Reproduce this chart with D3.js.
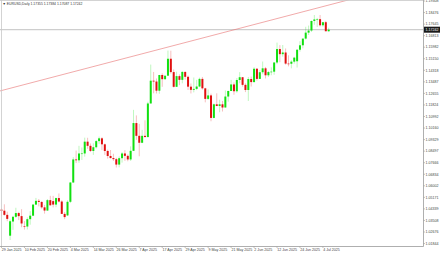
<!DOCTYPE html>
<html>
<head>
<meta charset="utf-8">
<script src="https://cdn.jsdelivr.net/npm/d3@7"></script>
<style>
  html, body { margin: 0; padding: 0; background: #fff; overflow: hidden; }
</style>
</head>
<body>
<div id="chart"></div>
<script>
// EURUSD daily candles, 29 Jan - 8 Jul 2025
const dates = [
  '2025-01-29','2025-01-30','2025-01-31','2025-02-03','2025-02-04','2025-02-05','2025-02-06','2025-02-07',
  '2025-02-10','2025-02-11','2025-02-12','2025-02-13','2025-02-14','2025-02-17','2025-02-18','2025-02-19',
  '2025-02-20','2025-02-21','2025-02-24','2025-02-25','2025-02-26','2025-02-27','2025-02-28','2025-03-03',
  '2025-03-04','2025-03-05','2025-03-06','2025-03-07','2025-03-10','2025-03-11','2025-03-12','2025-03-13',
  '2025-03-14','2025-03-17','2025-03-18','2025-03-19','2025-03-20','2025-03-21','2025-03-24','2025-03-25',
  '2025-03-26','2025-03-27','2025-03-28','2025-03-31','2025-04-01','2025-04-02','2025-04-03','2025-04-04',
  '2025-04-07','2025-04-08','2025-04-09','2025-04-10','2025-04-11','2025-04-14','2025-04-15','2025-04-16',
  '2025-04-17','2025-04-18','2025-04-21','2025-04-22','2025-04-23','2025-04-24','2025-04-25','2025-04-28',
  '2025-04-29','2025-04-30','2025-05-01','2025-05-02','2025-05-05','2025-05-06','2025-05-07','2025-05-08',
  '2025-05-09','2025-05-12','2025-05-13','2025-05-14','2025-05-15','2025-05-16','2025-05-19','2025-05-20',
  '2025-05-21','2025-05-22','2025-05-23','2025-05-26','2025-05-27','2025-05-28','2025-05-29','2025-05-30',
  '2025-06-02','2025-06-03','2025-06-04','2025-06-05','2025-06-06','2025-06-09','2025-06-10','2025-06-11',
  '2025-06-12','2025-06-13','2025-06-16','2025-06-17','2025-06-18','2025-06-19','2025-06-20','2025-06-23',
  '2025-06-24','2025-06-25','2025-06-26','2025-06-27','2025-06-30','2025-07-01','2025-07-02','2025-07-03',
  '2025-07-04','2025-07-07','2025-07-08'
];

const open = [
  1.0429,1.0421,1.0391,1.0241,1.0343,1.0377,1.0404,1.0382,
  1.0310,1.0307,1.0360,1.0385,1.0465,1.0492,1.0484,1.0445,
  1.0422,1.0497,1.0490,1.0465,1.0512,1.0487,1.0398,1.0387,
  1.0485,1.0624,1.0790,1.0784,1.0833,1.0833,1.0918,1.0888,
  1.0851,1.0878,1.0922,1.0942,1.0899,1.0851,1.0815,1.0800,
  1.0792,1.0753,1.0799,1.0833,1.0816,1.0790,1.0852,1.1052,
  1.0960,1.0910,1.0960,1.0951,1.1193,1.1357,1.1351,1.1285,
  1.1398,1.1368,1.1393,1.1515,1.1419,1.1313,1.1390,1.1363,
  1.1420,1.1385,1.1314,1.1291,1.1298,1.1315,1.1370,1.1302,
  1.1226,1.1251,1.1089,1.1187,1.1175,1.1187,1.1164,1.1243,
  1.1283,1.1330,1.1281,1.1362,1.1382,1.1327,1.1290,1.1369,
  1.1347,1.1443,1.1370,1.1418,1.1446,1.1396,1.1419,1.1422,
  1.1488,1.1585,1.1548,1.1560,1.1480,1.1479,1.1494,1.1497,
  1.1580,1.1612,1.1660,1.1703,1.1718,1.1787,1.1798,1.1800,
  1.1756,1.1778,1.1713
];

const high = [
  1.0437,1.0467,1.0414,1.0357,1.0384,1.0442,1.0413,1.0432,
  1.0346,1.0373,1.0418,1.0467,1.0513,1.0505,1.0489,1.0463,
  1.0505,1.0528,1.0528,1.0515,1.0545,1.0496,1.0412,1.0496,
  1.0627,1.0806,1.0854,1.0888,1.0876,1.0947,1.0946,1.0905,
  1.0906,1.0930,1.0955,1.0950,1.0905,1.0861,1.0858,1.0831,
  1.0802,1.0812,1.0843,1.0857,1.0826,1.0884,1.1147,1.1107,
  1.1046,1.1003,1.1072,1.1205,1.1473,1.1420,1.1373,1.1399,
  1.1410,1.1392,1.1574,1.1573,1.1438,1.1422,1.1403,1.1426,
  1.1425,1.1394,1.1337,1.1380,1.1363,1.1379,1.1384,1.1306,
  1.1294,1.1264,1.1193,1.1266,1.1220,1.1211,1.1287,1.1285,
  1.1363,1.1345,1.1376,1.1419,1.1383,1.1338,1.1384,1.1386,
  1.1454,1.1448,1.1434,1.1495,1.1456,1.1427,1.1453,1.1490,
  1.1631,1.1613,1.1614,1.1589,1.1540,1.1505,1.1529,1.1583,
  1.1641,1.1660,1.1745,1.1754,1.1790,1.1830,1.1809,1.1830,
  1.1780,1.1788,1.1738
];

const low = [
  1.0382,1.0385,1.0345,1.0210,1.0283,1.0369,1.0353,1.0302,
  1.0285,1.0286,1.0320,1.0382,1.0462,1.0452,1.0435,1.0400,
  1.0420,1.0458,1.0445,1.0446,1.0480,1.0397,1.0360,1.0383,
  1.0476,1.0620,1.0764,1.0766,1.0786,1.0810,1.0866,1.0843,
  1.0823,1.0869,1.0902,1.0857,1.0823,1.0796,1.0797,1.0779,
  1.0732,1.0733,1.0767,1.0780,1.0777,1.0779,1.0852,1.0931,
  1.0813,1.0907,1.0950,1.0950,1.1193,1.1266,1.1265,1.1263,
  1.1313,1.1362,1.1393,1.1408,1.1308,1.1312,1.1325,1.1338,
  1.1365,1.1290,1.1265,1.1273,1.1289,1.1310,1.1293,1.1201,
  1.1218,1.1065,1.1086,1.1173,1.1130,1.1135,1.1163,1.1206,
  1.1282,1.1256,1.1270,1.1339,1.1314,1.1275,1.1211,1.1315,
  1.1343,1.1357,1.1369,1.1404,1.1373,1.1384,1.1396,1.1400,
  1.1476,1.1490,1.1530,1.1472,1.1460,1.1446,1.1480,1.1452,
  1.1566,1.1590,1.1653,1.1686,1.1708,1.1760,1.1744,1.1747,
  1.1745,1.1713,1.1709
];

const close = [
  1.0421,1.0391,1.0362,1.0345,1.0377,1.0404,1.0382,1.0329,
  1.0307,1.0360,1.0385,1.0465,1.0492,1.0484,1.0445,1.0422,
  1.0497,1.0460,1.0465,1.0512,1.0487,1.0398,1.0375,1.0485,
  1.0624,1.0790,1.0784,1.0833,1.0833,1.0918,1.0888,1.0851,
  1.0878,1.0922,1.0942,1.0899,1.0851,1.0815,1.0800,1.0792,
  1.0753,1.0799,1.0833,1.0816,1.0790,1.0852,1.1052,1.0960,
  1.0910,1.0960,1.0951,1.1193,1.1357,1.1351,1.1285,1.1398,
  1.1368,1.1393,1.1515,1.1419,1.1313,1.1390,1.1363,1.1420,
  1.1385,1.1314,1.1291,1.1298,1.1315,1.1370,1.1302,1.1226,
  1.1251,1.1089,1.1187,1.1175,1.1187,1.1164,1.1243,1.1283,
  1.1330,1.1281,1.1362,1.1382,1.1327,1.1290,1.1369,1.1347,
  1.1443,1.1370,1.1418,1.1446,1.1396,1.1419,1.1422,1.1488,
  1.1585,1.1548,1.1560,1.1480,1.1479,1.1494,1.1523,1.1580,
  1.1612,1.1660,1.1703,1.1718,1.1787,1.1798,1.1800,1.1756,
  1.1778,1.1713,1.1724
];

// price scale labels on the right
const priceTicks = [
  1.19308,1.18476,1.17645,1.16813,1.15982,1.15150,1.14318,1.13487,
  1.12655,1.11824,1.10992,1.10160,1.09329,1.08497,1.07666,1.06834,
  1.06002,1.05171,1.04339,1.03508,1.02676,1.01844
];

// date labels along the bottom
const tickDates = [
  '2025-01-29','2025-02-10','2025-02-20','2025-03-04','2025-03-14','2025-03-26','2025-04-07','2025-04-17',
  '2025-04-29','2025-05-09','2025-05-21','2025-06-02','2025-06-12','2025-06-24','2025-07-04'
];

const titleText = 'EURUSD,Daily  1.17355 1.17384 1.17087 1.17242';
const bidPrice = 1.17242;

// trend line anchors (bar index, price)
const trendIdx = [0, 120];
const trendPrice = [1.1286, 1.1934];

(function() {
  const width = 440;
  const height = 254;
  const axisX = 423.5;
  const bottomY = 246.5;
  const upColor = '#11e011';
  const downColor = '#e01010';
  const font = '"Liberation Sans", Arial, sans-serif';

  const svg = d3.select('#chart')
    .append('svg')
    .attr('width', width)
    .attr('height', height)
    .style('display', 'block');

  svg.append('defs').append('clipPath')
    .attr('id', 'plot-clip')
    .append('rect')
    .attr('x', 0).attr('y', 0)
    .attr('width', axisX).attr('height', bottomY);

  const n = dates.length;
  const x = d3.scaleLinear().domain([0, n - 1]).range([1.5, 1.5 + (n - 1) * 2.87]);
  const y = d3.scaleLinear().domain([1.0210, 1.1830]).range([240, 15]);

  const bars = dates.map((d, i) => ({
    date: d, o: open[i], h: high[i], l: low[i], c: close[i], i: i
  }));

  const plot = svg.append('g').attr('clip-path', 'url(#plot-clip)');

  // frame
  svg.append('line')
    .attr('x1', 1.5).attr('x2', 1.5).attr('y1', 0).attr('y2', bottomY)
    .attr('stroke', '#c8c8c8').attr('stroke-width', 0.8);
  svg.append('line')
    .attr('x1', 0).attr('x2', axisX).attr('y1', 0.5).attr('y2', 0.5)
    .attr('stroke', '#c8c8c8').attr('stroke-width', 0.8);
  svg.append('line')
    .attr('x1', axisX).attr('x2', axisX).attr('y1', 0).attr('y2', bottomY)
    .attr('stroke', '#9a9a9a').attr('stroke-width', 0.8);
  svg.append('line')
    .attr('x1', 0).attr('x2', axisX).attr('y1', bottomY).attr('y2', bottomY)
    .attr('stroke', '#9a9a9a').attr('stroke-width', 0.8);

  // bid line
  plot.append('line')
    .attr('x1', 0).attr('x2', axisX)
    .attr('y1', y(bidPrice)).attr('y2', y(bidPrice))
    .attr('stroke', '#a8a8a8').attr('stroke-width', 0.7);

  // trend line, extended across the plot
  const slope = (trendPrice[1] - trendPrice[0]) / (trendIdx[1] - trendIdx[0]);
  const iLeft = x.invert(0);
  const iRight = x.invert(axisX);
  plot.append('line')
    .attr('x1', x(iLeft)).attr('y1', y(trendPrice[0] + (iLeft - trendIdx[0]) * slope))
    .attr('x2', x(iRight)).attr('y2', y(trendPrice[0] + (iRight - trendIdx[0]) * slope))
    .attr('stroke', '#e87070').attr('stroke-width', 0.6);

  // wicks
  plot.append('g')
    .selectAll('line')
    .data(bars)
    .enter().append('line')
    .attr('x1', d => x(d.i)).attr('x2', d => x(d.i))
    .attr('y1', d => y(d.h)).attr('y2', d => y(d.l))
    .attr('stroke', d => d.c >= d.o ? upColor : downColor)
    .attr('stroke-opacity', 0.45)
    .attr('stroke-width', 0.6);

  // bodies
  plot.append('g')
    .selectAll('rect')
    .data(bars)
    .enter().append('rect')
    .attr('x', d => x(d.i) - 1)
    .attr('width', 2)
    .attr('y', d => y(Math.max(d.o, d.c)))
    .attr('height', d => Math.max(0.6, Math.abs(y(d.o) - y(d.c))))
    .attr('fill', d => d.c >= d.o ? upColor : downColor);

  // title
  svg.append('text')
    .attr('x', 2.5).attr('y', 5)
    .style('font-family', font)
    .style('font-size', '3.4px')
    .attr('fill', '#333')
    .text('\u25BC ' + titleText);

  // price labels
  const pt = svg.append('g');
  pt.selectAll('line')
    .data(priceTicks)
    .enter().append('line')
    .attr('x1', axisX).attr('x2', axisX + 1.5)
    .attr('y1', d => y(d)).attr('y2', d => y(d))
    .attr('stroke', '#9a9a9a').attr('stroke-width', 0.6);
  pt.selectAll('text')
    .data(priceTicks)
    .enter().append('text')
    .attr('x', axisX + 2)
    .attr('y', d => y(d))
    .attr('dy', '0.35em')
    .style('font-family', font)
    .style('font-size', '3.6px')
    .attr('fill', '#444')
    .text(d => d.toFixed(5));

  // current price box
  const by = y(bidPrice);
  svg.append('rect')
    .attr('x', axisX + 0.5).attr('y', by - 3)
    .attr('width', width - axisX).attr('height', 6)
    .attr('fill', '#1a1a1a');
  svg.append('text')
    .attr('x', axisX + 2).attr('y', by)
    .attr('dy', '0.35em')
    .style('font-family', font)
    .style('font-size', '3.6px')
    .attr('fill', '#fff')
    .text(bidPrice.toFixed(5));

  // date labels
  const fmt = d3.timeFormat('%-d %b %Y');
  const parse = d3.timeParse('%Y-%m-%d');
  const dt = svg.append('g');
  const tickIdx = tickDates.map(d => dates.indexOf(d));
  dt.selectAll('line')
    .data(tickIdx)
    .enter().append('line')
    .attr('x1', d => x(d)).attr('x2', d => x(d))
    .attr('y1', bottomY).attr('y2', bottomY + 1.5)
    .attr('stroke', '#9a9a9a').attr('stroke-width', 0.6);
  dt.selectAll('text')
    .data(tickDates)
    .enter().append('text')
    .attr('x', (d, k) => Math.max(0.3, x(tickIdx[k]) + 0.3))
    .attr('y', 250.5)
    .style('font-family', font)
    .style('font-size', '3.6px')
    .attr('fill', '#444')
    .text(d => fmt(parse(d)));
})();
</script>
</body>
</html>
